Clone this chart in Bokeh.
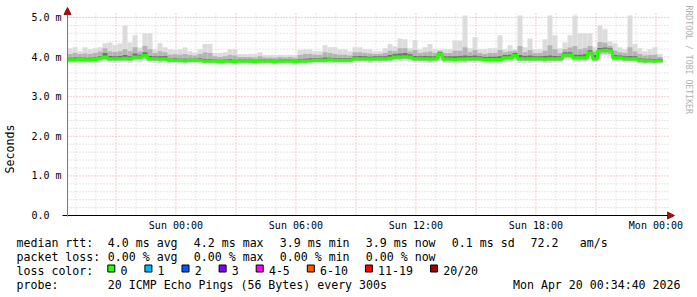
import numpy as np
from bokeh.plotting import figure
from bokeh.models import Range1d, FixedTicker, Label, Arrow, NormalHead
from bokeh.embed import file_html
from bokeh.resources import INLINE
from bokeh.core.properties import value

# ---------------- data ----------------
# hours relative to Sun 00:00; graph starts Sat 18:34:40, one value per 15 minutes
start_h = -(5 + 25 / 60 + 20 / 3600)
step_h = 0.25
span_h = 30.0

med = [3.93, 3.93, 3.94, 3.93, 3.93, 3.94, 3.97, 4.00, 3.96, 3.96,
       3.96, 3.97, 3.96, 4.00, 4.00, 4.04, 3.96, 3.96, 3.95, 3.96,
       3.92, 3.92, 3.92, 3.91, 3.92, 3.92, 3.92, 3.90, 3.90, 3.90,
       3.89, 3.90, 3.90, 3.89, 3.90, 3.90, 3.90, 3.89, 3.90, 3.90,
       3.90, 3.89, 3.90, 3.90, 3.90, 3.89, 3.90, 3.90, 3.91, 3.92,
       3.92, 3.92, 3.93, 3.92, 3.92, 3.92, 3.92, 3.96, 3.96, 3.96,
       3.95, 3.96, 3.96, 3.96, 3.97, 4.00, 4.00, 4.01, 4.00, 3.96,
       3.96, 3.96, 3.95, 3.96, 4.08, 3.95, 3.95, 3.94, 3.95, 3.95,
       3.96, 3.96, 3.96, 3.94, 3.94, 3.94, 3.94, 3.98, 3.98, 4.04,
       3.96, 3.96, 3.96, 3.96, 3.96, 3.95, 3.96, 3.96, 3.96, 4.05,
       4.05, 3.98, 3.98, 3.98, 4.10, 3.96, 4.16, 4.17, 4.16, 3.98,
       3.98, 3.96, 3.96, 3.96, 3.92, 3.91, 3.91, 3.90, 3.91]

smoke_max = [4.22, 4.25, 4.15, 4.25, 4.20, 4.22, 4.25, 4.35, 4.37, 4.30,
             4.34, 4.80, 4.37, 4.55, 4.24, 4.60, 4.60, 4.20, 4.35, 4.25,
             4.20, 4.18, 4.20, 4.24, 4.15, 4.12, 4.20, 4.33, 4.33, 4.10,
             4.10, 4.12, 4.20, 4.20, 4.08, 4.08, 4.08, 4.08, 4.12, 4.05,
             4.05, 4.05, 4.06, 4.05, 4.06, 4.05, 4.18, 4.19, 4.19, 4.15,
             4.15, 4.30, 4.25, 4.25, 4.20, 4.20, 4.15, 4.25, 4.25, 4.20,
             4.20, 4.15, 4.15, 4.22, 4.33, 4.27, 4.47, 4.45, 4.22, 4.43,
             4.20, 4.25, 4.33, 4.20, 4.18, 4.20, 4.20, 4.42, 4.42, 5.05,
             4.22, 4.50, 4.20, 4.20, 4.22, 4.22, 4.55, 4.20, 4.30, 4.20,
             5.05, 4.25, 4.47, 4.20, 4.20, 4.45, 5.05, 4.55, 4.22, 4.37,
             4.55, 5.05, 4.60, 4.60, 4.60, 4.25, 4.80, 4.70, 4.40, 4.35,
             4.25, 4.20, 5.05, 4.33, 4.22, 4.15, 4.20, 4.25, 4.08]

smoke_p90 = [4.08, 4.10, 4.08, 4.09, 4.08, 4.10, 4.14, 4.22, 4.15, 4.13,
             4.15, 4.20, 4.15, 4.25, 4.14, 4.28, 4.20, 4.10, 4.15, 4.12,
             4.06, 4.07, 4.06, 4.08, 4.05, 4.04, 4.08, 4.12, 4.10, 4.02,
             4.00, 4.02, 4.05, 4.04, 4.00, 4.00, 4.00, 3.99, 4.02, 3.99,
             3.99, 3.98, 4.00, 3.99, 4.00, 3.98, 4.05, 4.08, 4.08, 4.06,
             4.05, 4.12, 4.10, 4.08, 4.06, 4.06, 4.04, 4.12, 4.12, 4.10,
             4.09, 4.08, 4.08, 4.10, 4.16, 4.15, 4.22, 4.22, 4.14, 4.18,
             4.10, 4.12, 4.14, 4.10, 4.16, 4.10, 4.10, 4.16, 4.16, 4.25,
             4.12, 4.18, 4.10, 4.08, 4.10, 4.10, 4.18, 4.12, 4.15, 4.16,
             4.28, 4.12, 4.18, 4.10, 4.10, 4.16, 4.30, 4.20, 4.10, 4.20,
             4.24, 4.28, 4.20, 4.22, 4.28, 4.14, 4.38, 4.36, 4.28, 4.16,
             4.12, 4.10, 4.25, 4.14, 4.08, 4.04, 4.05, 4.06, 4.00]

smoke_p75 = [3.98, 3.99, 3.99, 3.98, 3.98, 3.99, 4.02, 4.10, 4.03, 4.02,
             4.03, 4.05, 4.02, 4.09, 4.06, 4.12, 4.03, 4.02, 4.02, 4.03,
             3.96, 3.97, 3.96, 3.96, 3.96, 3.96, 3.97, 3.95, 3.95, 3.94,
             3.93, 3.94, 3.95, 3.93, 3.94, 3.94, 3.94, 3.93, 3.94, 3.94,
             3.94, 3.93, 3.94, 3.94, 3.94, 3.93, 3.95, 3.96, 3.97, 3.97,
             3.97, 3.99, 3.98, 3.97, 3.97, 3.97, 3.97, 4.02, 4.03, 4.02,
             4.01, 4.02, 4.02, 4.02, 4.05, 4.08, 4.09, 4.10, 4.07, 4.03,
             4.02, 4.03, 4.02, 4.02, 4.13, 4.02, 4.02, 4.02, 4.03, 4.04,
             4.03, 4.04, 4.02, 4.00, 4.01, 4.01, 4.02, 4.05, 4.06, 4.10,
             4.05, 4.03, 4.04, 4.02, 4.02, 4.03, 4.04, 4.03, 4.02, 4.12,
             4.12, 4.06, 4.06, 4.07, 4.17, 4.05, 4.23, 4.24, 4.22, 4.05,
             4.04, 4.02, 4.03, 4.02, 3.97, 3.96, 3.96, 3.95, 3.96]

smoke_p25 = [3.91, 3.91, 3.92, 3.91, 3.91, 3.92, 3.95, 3.97, 3.94, 3.94,
             3.94, 3.95, 3.94, 3.97, 3.97, 4.01, 3.94, 3.94, 3.93, 3.94,
             3.90, 3.90, 3.90, 3.89, 3.90, 3.90, 3.90, 3.88, 3.88, 3.88,
             3.87, 3.88, 3.88, 3.87, 3.88, 3.88, 3.88, 3.87, 3.88, 3.88,
             3.88, 3.87, 3.88, 3.88, 3.88, 3.87, 3.88, 3.88, 3.89, 3.90,
             3.90, 3.90, 3.91, 3.90, 3.90, 3.90, 3.90, 3.94, 3.94, 3.94,
             3.93, 3.94, 3.94, 3.94, 3.95, 3.97, 3.97, 3.98, 3.97, 3.94,
             3.94, 3.94, 3.93, 3.94, 4.04, 3.93, 3.93, 3.92, 3.93, 3.93,
             3.94, 3.94, 3.94, 3.92, 3.92, 3.92, 3.92, 3.96, 3.96, 4.01,
             3.94, 3.94, 3.94, 3.94, 3.94, 3.93, 3.94, 3.94, 3.94, 4.02,
             4.02, 3.96, 3.96, 3.96, 4.07, 3.94, 4.13, 4.14, 4.13, 3.96,
             3.96, 3.94, 3.94, 3.94, 3.90, 3.89, 3.89, 3.88, 3.89]

smoke_p10 = [3.88, 3.88, 3.89, 3.88, 3.88, 3.89, 3.91, 3.93, 3.90, 3.90,
             3.91, 3.91, 3.90, 3.93, 3.93, 3.96, 3.90, 3.90, 3.89, 3.90,
             3.87, 3.87, 3.87, 3.86, 3.87, 3.87, 3.87, 3.85, 3.85, 3.85,
             3.84, 3.85, 3.85, 3.84, 3.85, 3.85, 3.85, 3.84, 3.85, 3.85,
             3.85, 3.84, 3.85, 3.85, 3.85, 3.84, 3.85, 3.85, 3.86, 3.87,
             3.87, 3.87, 3.88, 3.87, 3.87, 3.87, 3.87, 3.90, 3.90, 3.90,
             3.89, 3.90, 3.90, 3.90, 3.91, 3.94, 3.94, 3.95, 3.94, 3.90,
             3.90, 3.90, 3.89, 3.90, 3.98, 3.89, 3.89, 3.88, 3.89, 3.89,
             3.90, 3.90, 3.90, 3.88, 3.88, 3.88, 3.88, 3.92, 3.92, 3.96,
             3.90, 3.90, 3.90, 3.90, 3.90, 3.89, 3.90, 3.90, 3.90, 3.98,
             3.98, 3.92, 3.92, 3.92, 4.02, 3.90, 4.08, 4.09, 4.08, 3.92,
             3.92, 3.90, 3.90, 3.90, 3.86, 3.85, 3.86, 3.85, 3.86]

smoke_min = [3.84, 3.85, 3.86, 3.84, 3.85, 3.85, 3.86, 3.88, 3.86, 3.85,
             3.86, 3.86, 3.85, 3.88, 3.87, 3.90, 3.86, 3.85, 3.85, 3.86,
             3.83, 3.84, 3.83, 3.82, 3.84, 3.84, 3.83, 3.82, 3.81, 3.82,
             3.81, 3.82, 3.82, 3.80, 3.82, 3.82, 3.81, 3.81, 3.82, 3.82,
             3.82, 3.81, 3.82, 3.82, 3.81, 3.80, 3.82, 3.82, 3.83, 3.84,
             3.84, 3.83, 3.85, 3.84, 3.84, 3.83, 3.84, 3.85, 3.86, 3.86,
             3.85, 3.86, 3.85, 3.86, 3.86, 3.88, 3.89, 3.90, 3.88, 3.86,
             3.86, 3.85, 3.85, 3.86, 3.90, 3.85, 3.85, 3.84, 3.85, 3.85,
             3.86, 3.85, 3.86, 3.84, 3.84, 3.84, 3.83, 3.86, 3.87, 3.90,
             3.85, 3.86, 3.85, 3.86, 3.86, 3.85, 3.85, 3.86, 3.86, 3.92,
             3.92, 3.87, 3.88, 3.88, 3.95, 3.87, 4.03, 4.04, 4.02, 3.88,
             3.88, 3.86, 3.86, 3.86, 3.83, 3.82, 3.83, 3.82, 3.83]

x_ticks = [0, 6, 12, 18, 24]
x_tick_labels = ["Sun 00:00", "Sun 06:00", "Sun 12:00", "Sun 18:00", "Mon 00:00"]
y_ticks = [0, 1, 2, 3, 4, 5]
y_tick_labels = ["0.0\u00a0\u00a0", "1.0 m", "2.0 m", "3.0 m", "4.0 m", "5.0 m"]

rtt_label = "median rtt:"
rtt_stats = ["4.0 ms avg", "4.2 ms max", "3.9 ms min", "3.9 ms now", "0.1 ms sd"]
rtt_extra = ["72.2", "am/s"]
loss_label = "packet loss:"
loss_stats = ["0.00 % avg", "0.00 % max", "0.00 % min", "0.00 % now"]
color_label = "loss color:"
loss_names = ["0", "1", "2", "3", "4-5", "6-10", "11-19", "20/20"]
loss_colors = ["#26ff00", "#00b8ff", "#0059ff", "#7e00ff", "#ff00ff", "#ff5500", "#ff0000", "#a10000"]
probe_label = "probe:"
probe_text = "20 ICMP Echo Pings (56 Bytes) every 300s"
stamp_text = "Mon Apr 20 00:34:40 2026"
credit_text = "RRDTOOL / TOBI OETIKER"

# ---------------- geometry (canvas pixel -> data) ----------------
W, H = 697, 297
FL, FT, FW, FH = 67, 13, 600, 202      # data area inside the canvas
Y_TOP = 5.1
def xd(px):
    return start_h + (px - FL) / FW * span_h
def yd(py):
    return (FT + FH - py) / FH * Y_TOP

MONO = "DejaVu Sans Mono"
end_h = start_h + span_h

p = figure(width=W, height=H, output_backend="svg", toolbar_location=None,
           x_range=Range1d(xd(0), xd(W)), y_range=Range1d(yd(H), yd(0)),
           min_border=0, min_border_left=0, min_border_right=0,
           min_border_top=0, min_border_bottom=0)
p.outline_line_color = None
p.background_fill_color = "white"
p.border_fill_color = "white"
for g in p.grid:
    g.visible = False

# grid lines (minor, then major), restricted to the data area
hrs = list(range(-5, 25))
minor_x = [h for h in hrs if h % 3 != 0]
major_x = [h for h in hrs if h % 3 == 0]
minor_y = [round(k * 0.2, 2) for k in range(1, 26) if k % 5 != 0]
major_y = [1, 2, 3, 4, 5]
for xs, ys, col in [(minor_x, minor_y, "#cdcdcd"), (major_x, major_y, "#e89c9c")]:
    p.segment(x0=xs, y0=[0] * len(xs), x1=xs, y1=[Y_TOP] * len(xs),
              line_color=col, line_dash="1 2", line_width=1)
    p.segment(x0=[start_h] * len(ys), y0=ys, x1=[end_h + 0.05] * len(ys), y1=ys,
              line_color=col, line_dash="1 2", line_width=1)

# smoke
n = len(med)
left = [start_h + i * step_h for i in range(n)]
right = [l + step_h for l in left]
top_clip = [min(v, Y_TOP) for v in smoke_max]
p.quad(left=left, right=right, bottom=smoke_min, top=top_clip, fill_color="#dcdcdc", line_color=None)
p.quad(left=left, right=right, bottom=smoke_p10, top=smoke_p90, fill_color="#b4b4b4", line_color=None)
p.quad(left=left, right=right, bottom=smoke_p25, top=smoke_p75, fill_color="#707070", line_color=None)
p.step(left + [right[-1]], med + [med[-1]], mode="after", line_color="#26ff00", line_width=3)

# axes placed at the data origin
p.xaxis.fixed_location = 0
p.yaxis.fixed_location = start_h
p.xaxis.ticker = FixedTicker(ticks=x_ticks)
p.xaxis.major_label_overrides = dict(zip(x_ticks, x_tick_labels))
p.yaxis.ticker = FixedTicker(ticks=y_ticks)
p.yaxis.major_label_overrides = dict(zip(y_ticks, y_tick_labels))
for ax in (p.xaxis[0], p.yaxis[0]):
    ax.axis_line_color = None
    ax.major_tick_line_color = None
    ax.minor_tick_line_color = None
    ax.major_tick_out = 0
    ax.major_tick_in = 0
    ax.minor_tick_out = 0
    ax.minor_tick_in = 0
    ax.major_label_text_font = MONO
    ax.major_label_text_font_size = "10px"
    ax.major_label_text_color = "#000000"
p.xaxis.major_label_standoff = 4
p.yaxis.major_label_standoff = 6
p.yaxis.axis_label = "Seconds"
p.yaxis.axis_label_text_font = MONO
p.yaxis.axis_label_text_font_size = "11.6px"
p.yaxis.axis_label_text_font_style = "normal"
p.yaxis.axis_label_text_color = "#000000"
p.yaxis.axis_label_standoff = 11

# axis lines with arrow heads
ARROW = "#a01010"
p.add_layout(Arrow(end=NormalHead(size=7, fill_color=ARROW, line_color=ARROW),
                   x_start=xd(62), y_start=0, x_end=xd(674), y_end=0,
                   line_color="black", line_width=1))
p.add_layout(Arrow(end=NormalHead(size=7, fill_color=ARROW, line_color=ARROW),
                   x_start=start_h, y_start=yd(216), x_end=start_h, y_end=yd(7),
                   line_color="#777777", line_width=1))
p.add_layout(Label(x=xd(688), y=yd(5), text=credit_text, angle=-np.pi / 2,
                   text_font=MONO, text_font_size="8.2px", text_color="#b0b0b0",
                   text_align="left", text_baseline="middle"))

# ---------------- legend block ----------------
rows = [242, 256.2, 270.4, 284.6]   # text baselines (canvas px)
box_top, box_bottom = 264.5, 271.5
col0, col1, colstep = 16, 107.3, 86
tx, ty, tt = [], [], []
def add(x, y, s):
    tx.append(xd(x)); ty.append(yd(y)); tt.append(s)
add(col0, rows[0], rtt_label)
for k, s in enumerate(rtt_stats):
    add(col1 + colstep * k, rows[0], s)
add(530, rows[0], rtt_extra[0])
add(579.3, rows[0], rtt_extra[1])
add(col0, rows[1], loss_label)
for k, s in enumerate(loss_stats):
    add(col1 + colstep * k, rows[1], s)
add(col0, rows[2], color_label)
add(col0, rows[3], probe_label)
add(col1, rows[3], probe_text)

box_l = []
xpos = col1
for name in loss_names:
    box_l.append(xpos)
    add(xpos + 12.7, rows[2], name)
    xpos = xpos + 12.7 + 7 * len(name) + 17.4

p.text(x=tx, y=ty, text=tt, text_font=value(MONO), text_font_size=value("11.6px"),
       text_color="#000000", text_align="left", text_baseline="alphabetic")
p.text(x=[xd(680)], y=[yd(rows[3])], text=[stamp_text], text_font=value(MONO),
       text_font_size=value("11.6px"), text_color="#000000", text_align="right",
       text_baseline="alphabetic")
p.quad(left=[xd(b) for b in box_l], right=[xd(b + 7) for b in box_l],
       top=[yd(box_top)] * len(box_l), bottom=[yd(box_bottom)] * len(box_l),
       fill_color=loss_colors, line_color="black", line_width=1)

open("out.html", "w").write(file_html(p, INLINE))
